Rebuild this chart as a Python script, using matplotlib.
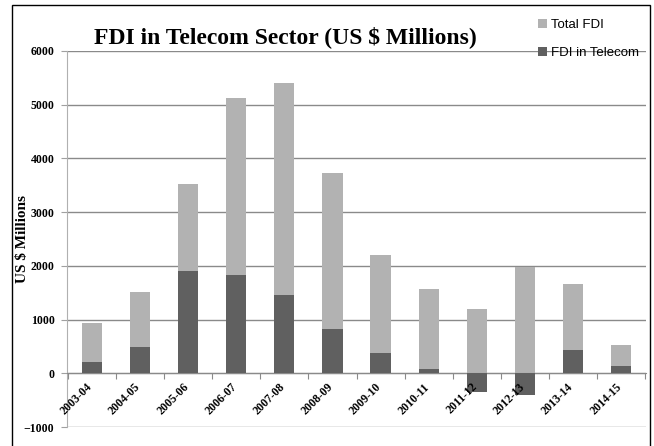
import matplotlib.pyplot as plt
import numpy as np
from matplotlib.patches import Rectangle

years = ["2003-04", "2004-05", "2005-06", "2006-07", "2007-08", "2008-09",
         "2009-10", "2010-11", "2011-12", "2012-13", "2013-14", "2014-15"]
total_fdi = [940, 1510, 3520, 5130, 5400, 3720, 2200, 1570, 1190, 1980, 1660, 530]
telecom_fdi = [210, 490, 1900, 1830, 1450, 820, 380, 80, -350, -400, 440, 130]

serif = "Liberation Serif"

fig = plt.figure(figsize=(6.54, 4.46), dpi=100)
ax = fig.add_axes([67/654, 1-427/446, (646-67)/654, (427-51)/446])

x = np.arange(len(years))
b1 = ax.bar(x, total_fdi, width=0.42, color="#b2b2b2", zorder=2, label="Total FDI")
b2 = ax.bar(x, telecom_fdi, width=0.42, color="#606060", zorder=3, label="FDI in Telecom")

ax.set_ylim(-1000, 6000)
ax.set_xlim(-0.52, 11.52)
ax.set_yticks(range(-1000, 6001, 1000))
ax.yaxis.grid(True, color="#8a8a8a", lw=1, zorder=0)
for t in ax.get_yticklabels():
    t.set_fontfamily(serif)
    t.set_fontweight("bold")
    t.set_fontsize(8.5)
ax.tick_params(axis="y", length=4, color="#a0a0a0", pad=5)

# category axis sits at zero, ticks between categories
ax.spines["bottom"].set_position(("data", 0))
ax.spines["bottom"].set_color("#8a8a8a")
ax.spines["left"].set_color("#b0b0b0")
ax.spines["top"].set_visible(False)
ax.spines["right"].set_visible(False)
ax.set_xticks(np.arange(-0.5, 12, 1))
ax.set_xticklabels([])
ax.tick_params(axis="x", length=4, color="#8a8a8a")

for i, y in enumerate(years):
    ax.text(i - 0.03, -220, y, rotation=45, ha="right", va="center",
            rotation_mode="anchor", family=serif, fontweight="bold", fontsize=8.5)

ax.set_ylabel("US $ Millions", family=serif, fontweight="bold", fontsize=11)
ax.yaxis.set_label_coords(-0.066, 0.5)

fig.text(0.437, 0.917, "FDI in Telecom Sector (US $ Millions)", ha="center", va="center",
         family=serif, fontweight="bold", fontsize=17)

fig.legend(handles=[b1, b2], loc="upper left", bbox_to_anchor=(526/654, 1-7/446),
           frameon=False, prop={"family": "Liberation Sans", "size": 9.5},
           handlelength=0.7, handleheight=0.7, handletextpad=0.3, labelspacing=1.2)

fig.patches.append(Rectangle((12/654, -0.1), (650-12)/654, 1.1-5/446, transform=fig.transFigure,
                             fill=False, edgecolor="black", lw=1))

fig.savefig("out.png", dpi=100)
